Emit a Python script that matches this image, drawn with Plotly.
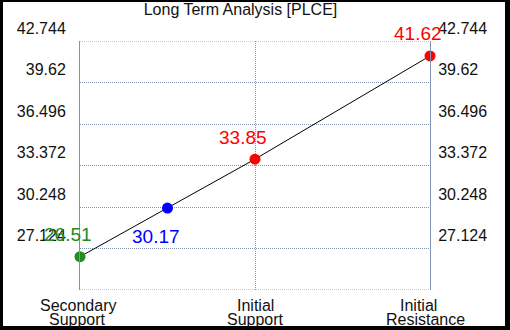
import plotly.graph_objects as go

# ---- data ----
level_names = ["Secondary Support", "Initial Support", "Initial Resistance"]
level_pos = [0, 1, 2]
point_x = [0, 0.5, 1, 2]
point_values = [26.51, 30.17, 33.85, 41.62]
point_colors = ["#228B22", "#0000FF", "#FF0000", "#FF0000"]
label_below = [False, True, False, False]
y_grid = [24.0, 27.124, 30.248, 33.372, 36.496, 39.62, 42.744]
y_tick_text = ["", "27.124", "30.248", "33.372", "36.496", "39.62", "42.744"]
title_text = "Long Term Analysis [PLCE]"

W, H = 510, 330
ML, MR, MT, MB = 80, 80, 41, 40
PW, PH = W - ML - MR, H - MT - MB
FONT = "Arial, Liberation Sans, sans-serif"
GRID = "#8093b0"

fig = go.Figure()
fig.add_trace(go.Scatter(
    x=point_x, y=point_values, mode="lines+markers",
    line=dict(color="black", width=1),
    marker=dict(color=point_colors, size=11),
    hoverinfo="skip", showlegend=False, cliponaxis=False,
))
# invisible trace to anchor the right-hand axis
fig.add_trace(go.Scatter(
    x=point_x, y=point_values, yaxis="y2", mode="lines",
    opacity=0, hoverinfo="skip", showlegend=False,
))

# value labels
for x, v, c, below in zip(point_x, point_values, point_colors, label_below):
    fig.add_annotation(
        x=x, y=v, xref="x", yref="y", text=f"{v:.2f}", showarrow=False,
        font=dict(family=FONT, size=19, color=c),
        xanchor="center", yanchor="middle",
        xshift=-12, yshift=(-28 if below else 22),
    )

# category labels (one annotation per line)
line_xshift = {0: (-2, -3), 1: (0, 0), 2: (-12, -5)}
for p, name in zip(level_pos, level_names):
    first, second = name.split(" ", 1)
    for i, (txt, ys) in enumerate(((first, -15), (second, -29))):
        fig.add_annotation(
            x=p, y=0, xref="x", yref="paper", text=txt, showarrow=False,
            font=dict(family=FONT, size=16, color="#111111"),
            xanchor="center", yanchor="middle",
            xshift=line_xshift[p][i], yshift=ys,
        )

# dotted top / bottom border at the outer grid values
for gv in (y_grid[0], y_grid[-1]):
    fig.add_shape(type="line", xref="paper", yref="y", x0=0, x1=1, y0=gv, y1=gv,
                  line=dict(color=GRID, width=1, dash="1px,1px"), layer="below")

# black frame around the image
def px_to_paper_x(px):
    return (px - ML) / PW

def px_to_paper_y(py):
    return (H - MB - py) / PH

frame = [(0, 0, 3, H), (W - 5, 0, W, H), (0, 0, W, 2), (0, H - 4, W, H)]
for x0, y0, x1, y1 in frame:
    fig.add_shape(type="rect", xref="paper", yref="paper",
                  x0=px_to_paper_x(x0), x1=px_to_paper_x(x1),
                  y0=px_to_paper_y(y1), y1=px_to_paper_y(y0),
                  fillcolor="black", line=dict(width=0), layer="above")

yaxis_common = dict(
    range=[y_grid[0], y_grid[-1]], tickvals=y_grid, ticktext=y_tick_text,
    showgrid=True, gridcolor=GRID, griddash="1px,1px", gridwidth=1,
    showline=True, linecolor=GRID, linewidth=1, ticks="",
    tickfont=dict(family=FONT, size=16, color="#111111"),
    zeroline=False, ticklabelshift=-13, fixedrange=True,
)

fig.update_layout(
    width=W, height=H,
    margin=dict(l=ML, r=MR, t=MT, b=MB, pad=0),
    paper_bgcolor="white", plot_bgcolor="white",
    title=dict(text=title_text, font=dict(family=FONT, size=16, color="#111111"),
               x=240.5 / W, xref="container", xanchor="center",
               y=1 - 9.5 / H, yref="container", yanchor="middle"),
    xaxis=dict(range=[0, 2], tickvals=level_pos, showticklabels=False,
               showgrid=True, gridcolor=GRID, griddash="1px,1px", gridwidth=1,
               showline=False, zeroline=False, ticks="", fixedrange=True),
    yaxis=dict(side="left", ticklabelstandoff=10, **yaxis_common),
    yaxis2=dict(side="right", overlaying="y", ticklabelstandoff=4, **yaxis_common),
)

fig.write_html("out.html", config={"displayModeBar": False},
               post_script="document.body.style.margin='0';")
